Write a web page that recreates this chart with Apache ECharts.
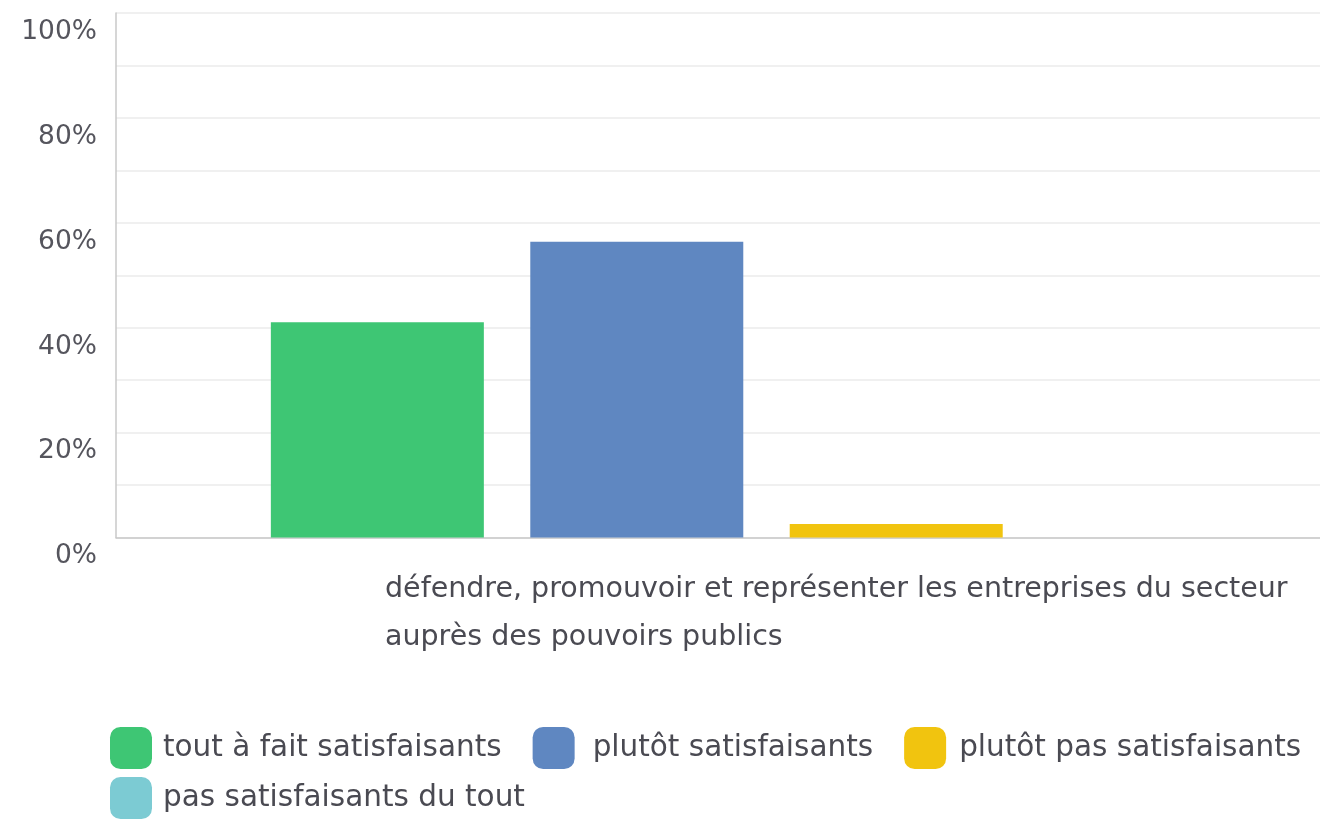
<!DOCTYPE html>
<html>
<head>
<meta charset="utf-8">
<script src="https://cdn.jsdelivr.net/npm/echarts@6/dist/echarts.min.js"></script>
<style>
html,body{margin:0;padding:0;background:#fff;}
#chart{width:1320px;height:819px;}
</style>
</head>
<body>
<div id="chart"></div>
<script>
const categoryLines = ["défendre, promouvoir et représenter les entreprises du secteur", "auprès des pouvoirs publics"];
const seriesNames = ["tout à fait satisfaisants", "plutôt satisfaisants", "plutôt pas satisfaisants", "pas satisfaisants du tout"];
const seriesValues = [41.03, 56.41, 2.56, 0];
const seriesColors = ["#3ec674", "#5f87c1", "#f1c40f", "#7ccbd3"];
const yTickLabels = ["0%", "20%", "40%", "60%", "80%", "100%"];

const FONT = "DejaVu Sans";
const chart = echarts.init(document.getElementById('chart'));
const category = categoryLines.join(' ');

const series = seriesNames.map((n, i) => ({
  name: n,
  type: 'bar',
  data: [seriesValues[i]],
  barWidth: 213,
  barGap: '21.8%',
  itemStyle: { color: seriesColors[i] },
  emphasis: { disabled: true },
  animation: false
}));

const legendText = { fontSize: 29.5, color: '#4a4a52', fontFamily: FONT };

chart.setOption({
  animation: false,
  textStyle: { fontFamily: FONT },
  grid: { left: 116, width: 1301, top: 13, height: 524.5, containLabel: false, outerBoundsMode: 'none' },
  xAxis: {
    type: 'category',
    data: [category],
    axisLine: { show: true, lineStyle: { color: '#c8c8c8', width: 1.5 } },
    axisTick: { show: false },
    axisLabel: {
      margin: 28,
      padding: [0, 0, 0, 142],
      formatter: () => categoryLines.map(l => '{a|' + l + '}').join('\n'),
      rich: { a: { width: 905, align: 'left', fontSize: 28.5, lineHeight: 48, color: '#4a4a52', fontFamily: FONT } }
    }
  },
  yAxis: {
    type: 'value',
    min: 0, max: 100, interval: 10,
    axisLine: { show: true, lineStyle: { color: '#c8c8c8', width: 1.5 } },
    axisTick: { show: false },
    splitLine: { show: true, lineStyle: { color: '#ebebeb', width: 1.5 } },
    axisLabel: {
      margin: 19,
      fontSize: 26.5,
      color: '#55555d',
      fontFamily: FONT,
      verticalAlign: 'top',
      lineHeight: 38,
      formatter: v => (v % 20 === 0 ? yTickLabels[v / 20] : '')
    }
  },
  legend: [
    {
      data: [
        { name: seriesNames[0], textStyle: Object.assign({}, legendText, { padding: [0, 0, 0, 6] }) },
        { name: seriesNames[1], textStyle: Object.assign({}, legendText, { padding: [0, 0, 0, 13] }) },
        { name: seriesNames[2], textStyle: Object.assign({}, legendText, { padding: [0, 0, 0, 8] }) }
      ],
      left: 110, top: 727,
      padding: 0,
      orient: 'horizontal',
      icon: 'roundRect',
      itemWidth: 42, itemHeight: 42,
      itemGap: 31,
      selectedMode: false,
      textStyle: legendText
    },
    {
      data: [{ name: seriesNames[3], textStyle: Object.assign({}, legendText, { padding: [0, 0, 0, 6] }) }],
      left: 110, top: 777,
      padding: 0,
      icon: 'roundRect',
      itemWidth: 42, itemHeight: 42,
      selectedMode: false,
      textStyle: legendText
    }
  ],
  series: series
});
</script>
</body>
</html>
